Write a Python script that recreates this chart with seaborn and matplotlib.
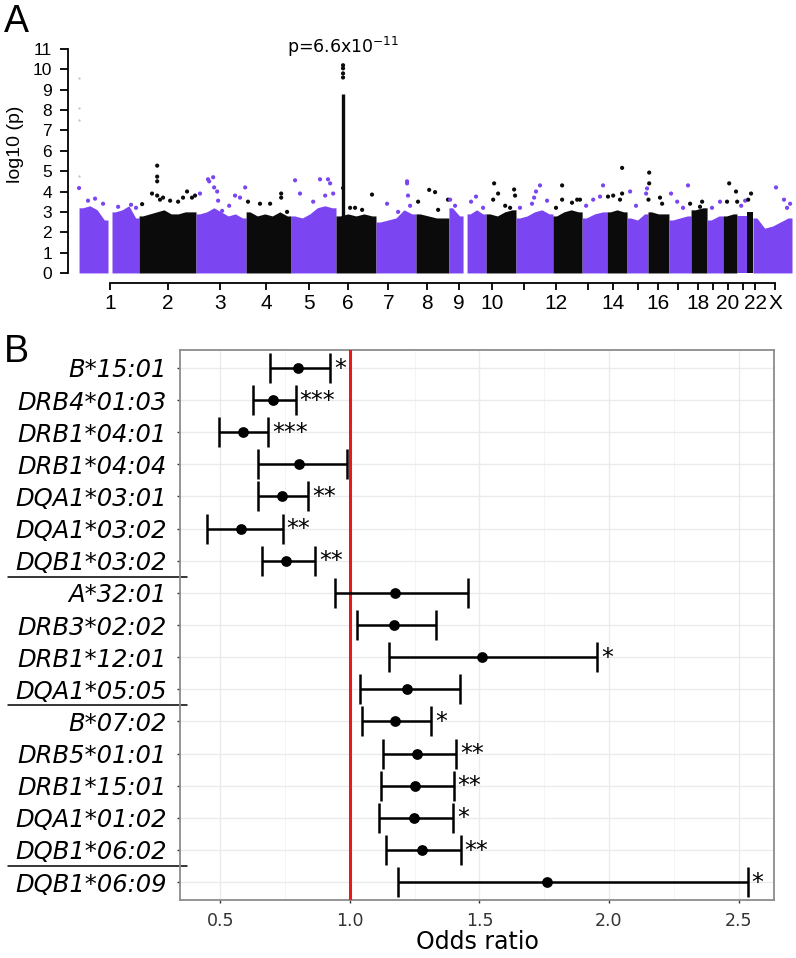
import numpy as np
import pandas as pd
import matplotlib
matplotlib.use("Agg")
import matplotlib.pyplot as plt
from matplotlib.ticker import MultipleLocator
from matplotlib.transforms import blended_transform_factory
import seaborn as sns

##################### panel A data: manhattan (positions in Mb, cumulative) #####################
seg_chrom = ['1', '1', '2', '3', '4', '5', '6', '7', '8', '9', '9', '10', '11', '12', '13',
             '14', '15', '16', '17', '18', '19', '20', '21', '22', 'X']
seg_start = [0, 140, 255, 497, 710, 901, 1092, 1262, 1432, 1572, 1649, 1730, 1857, 2014, 2138,
             2244, 2329, 2418, 2507, 2601, 2669, 2737, 2796, 2839, 2864]
seg_end = [123, 255, 497, 710, 901, 1092, 1262, 1432, 1572, 1632, 1730, 1857, 2014, 2138, 2244,
           2329, 2418, 2507, 2601, 2669, 2737, 2796, 2839, 2864, 3030]
# top of the dense cloud of points, read left to right inside each segment
seg_profile = [[3.2, 3.3, 3.1, 2.6],
               [3.0, 3.1, 3.3, 2.7],
               [2.8, 2.9, 3.0, 3.1, 2.9, 2.9, 3.0, 3.0],
               [2.9, 3.0, 3.2, 3.0, 2.8, 2.9, 2.7],
               [3.0, 2.8, 2.9, 2.8, 3.0, 2.8],
               [2.8, 2.7, 2.9, 3.2, 3.3, 3.2],
               [2.8, 2.9, 2.8, 2.9, 2.8],
               [2.5, 2.6, 2.7, 3.1, 2.9],
               [2.9, 2.8, 2.7, 2.7],
               [3.2, 2.8],
               [2.9, 3.1, 2.9],
               [2.9, 2.8, 3.0, 3.1],
               [2.7, 2.8, 3.0, 3.1, 2.9],
               [2.8, 3.0, 3.1, 3.0],
               [2.7, 2.9, 3.0],
               [3.0, 3.1, 3.0],
               [2.7, 2.6, 2.9],
               [3.0, 2.9, 2.9],
               [2.6, 2.7, 2.8],
               [3.1, 3.2],
               [2.6, 2.8],
               [2.8, 2.9],
               [2.8],
               [3.0],
               [2.7, 2.2, 2.3, 2.5, 2.7]]

chrom_order = ['1', '2', '3', '4', '5', '6', '7', '8', '9', '10', '11', '12', '13', '14', '15',
               '16', '17', '18', '19', '20', '21', '22', 'X']
tick_pos = [132, 378, 599, 795, 978, 1143, 1314, 1479, 1615, 1755, 1891, 2027, 2163, 2269,
            2375, 2461, 2546, 2631, 2695, 2758, 2822, 2873, 2958]
tick_lab = ['1', '2', '3', '4', '5', '6', '7', '8', '9', '10', '', '12', '', '14', '', '16',
            '', '18', '', '20', '', '22', 'X']

# single SNPs standing out above the cloud
hit_chrom = ['1'] * 7 + ['2'] * 14 + ['3'] * 12 + ['4'] * 6 + ['5'] * 8 + ['6'] * 9 + ['7'] * 6 \
    + ['8'] * 5 + ['9'] * 5 + ['10'] * 7 + ['11'] * 6 + ['12'] * 6 + ['13'] * 4 + ['14'] * 5 \
    + ['15'] * 4 + ['16'] * 5 + ['17'] * 4 + ['18'] * 3 + ['19'] * 2 + ['20'] * 4 + ['21'] * 2 \
    + ['22'] * 2 + ['X'] * 4
hit_pos = [0, 38, 68, 102, 166, 221, 242,
           268, 310, 332, 332, 332, 332, 344, 357, 387, 421, 442, 459, 480, 493,
           514, 548, 553, 570, 574, 587, 591, 608, 638, 663, 684, 706,
           718, 769, 812, 859, 859, 884,
           918, 939, 995, 1024, 1046, 1058, 1067, 1080,
           1122, 1122, 1122, 1122, 1122, 1152, 1173, 1203, 1245,
           1309, 1356, 1394, 1394, 1398, 1407,
           1441, 1488, 1513, 1526, 1568,
           1577, 1598, 1666, 1687, 1717,
           1760, 1764, 1781, 1811, 1832, 1849, 1853,
           1874, 1925, 1934, 1942, 1959, 1989,
           2027, 2053, 2053, 2095, 2117, 2129,
           2155, 2185, 2214, 2227,
           2248, 2270, 2299, 2308, 2308,
           2342, 2367, 2410, 2414,
           2420, 2423, 2423, 2469, 2478,
           2516, 2542, 2567, 2588,
           2597, 2639, 2648,
           2690, 2724,
           2754, 2763, 2792, 2797,
           2814, 2831,
           2844, 2856,
           2962, 2996, 3009, 3022]
hit_logp = [4.17, 3.55, 3.65, 3.4, 3.25, 3.35, 3.2,
            3.38, 3.9, 5.27, 4.73, 4.5, 3.8, 3.6, 3.7, 3.55, 3.5, 3.7, 4.0, 3.7, 3.8,
            3.9, 4.6, 4.5, 4.7, 4.2, 4.0, 3.55, 3.05, 3.3, 3.8, 3.7, 4.2,
            3.5, 3.4, 3.4, 3.9, 3.7, 3.0,
            4.55, 3.9, 3.5, 4.6, 3.8, 4.6, 4.4, 3.9,
            10.2, 10.05, 9.8, 9.6, 4.17, 3.2, 3.2, 3.1, 3.85,
            3.4, 3.0, 4.5, 4.4, 3.8, 3.3,
            3.5, 4.08, 3.97, 3.1, 3.6,
            3.6, 3.3, 3.5, 3.75, 3.2,
            3.6, 4.4, 3.9, 3.3, 3.2, 4.1, 3.8,
            3.2, 3.4, 3.7, 4.0, 4.3, 3.55,
            3.2, 4.3, 3.6, 3.45, 3.6, 3.6,
            3.3, 3.6, 3.75, 4.3,
            3.75, 3.8, 3.6, 5.16, 3.9,
            4.0, 3.3, 3.9, 4.15,
            3.6, 4.93, 4.4, 3.7, 3.4,
            3.9, 3.5, 3.2, 4.3,
            3.4, 3.25, 3.5,
            3.2, 3.5,
            3.5, 4.4, 4.0, 3.5,
            3.3, 3.55,
            3.6, 3.9,
            4.2, 3.6, 3.2, 3.4]
# the faint grey marks at the very left of chr1
faint_pos = [0, 0, 0, 0]
faint_logp = [9.58, 8.1, 7.5, 4.76]
# HLA peak column on chr6
peak_pos = 1122
peak_low = 2.6
peak_high = 8.8

##################### panel B data: odds ratios #####################
alleles = ['B*15:01', 'DRB4*01:03', 'DRB1*04:01', 'DRB1*04:04', 'DQA1*03:01', 'DQA1*03:02',
           'DQB1*03:02', 'A*32:01', 'DRB3*02:02', 'DRB1*12:01', 'DQA1*05:05', 'B*07:02',
           'DRB5*01:01', 'DRB1*15:01', 'DQA1*01:02', 'DQB1*06:02', 'DQB1*06:09']
odds = [0.800, 0.703, 0.587, 0.803, 0.736, 0.579, 0.755, 1.174, 1.170, 1.510, 1.220, 1.174,
        1.260, 1.253, 1.248, 1.277, 1.760]
ci_low = [0.691, 0.625, 0.494, 0.646, 0.645, 0.447, 0.660, 0.942, 1.028, 1.152, 1.039, 1.047,
          1.129, 1.120, 1.113, 1.141, 1.187]
ci_high = [0.923, 0.790, 0.684, 0.990, 0.838, 0.740, 0.865, 1.456, 1.332, 1.954, 1.425, 1.313,
           1.410, 1.400, 1.399, 1.427, 2.535]
stars = ['*', '***', '***', '', '**', '**', '**', '', '', '*', '', '*', '**', '**', '*', '**', '*']
sep_after = [6, 10, 15]

PURPLE = '#7b45f1'
BLACK = '#0b0b0b'

sns.set_style("white")
plt.rcParams['font.family'] = ['Liberation Sans', 'DejaVu Sans']
for key in ['text.color', 'axes.labelcolor', 'xtick.color', 'ytick.color']:
    plt.rcParams[key] = 'black'

W, H = 796, 958
fig = plt.figure(figsize=(W / 100, H / 100), dpi=100)

def px_axes(l, t, r, b):
    return fig.add_axes([l / W, 1 - b / H, (r - l) / W, (b - t) / H])

#################### A ####################
axa = px_axes(72, 40, 796, 275)
colour_of = {c: (PURPLE if i % 2 == 0 else BLACK) for i, c in enumerate(chrom_order)}

for ch, s, e, prof in zip(seg_chrom, seg_start, seg_end, seg_profile):
    step = (e - s) / len(prof)
    xs = np.concatenate([[s], s + step * (np.arange(len(prof)) + 0.5), [e]])
    ys = np.concatenate([[prof[0]], prof, [prof[-1]]])
    axa.fill_between(xs, ys, 0, color=colour_of[ch], lw=0, zorder=1)

axa.vlines(peak_pos, peak_low, peak_high, color=BLACK, lw=2.4, zorder=2)

hits = pd.DataFrame({'pos': hit_pos, 'logp': hit_logp, 'chrom': hit_chrom})
hits['col'] = ['odd' if chrom_order.index(c) % 2 == 0 else 'even' for c in hits['chrom']]
sns.scatterplot(data=hits, x='pos', y='logp', hue='col', palette={'odd': PURPLE, 'even': BLACK},
                s=9, linewidth=0, legend=False, ax=axa, zorder=3)
axa.scatter(faint_pos, faint_logp, s=3, color='#c8c8c8', lw=0, zorder=3)

axa.set_xlim(-30, 3047)
axa.set_ylim(-0.1, 11.44)
axa.set_xlabel('')
axa.set_ylabel('log10 (p)', fontsize=14)
axa.yaxis.set_label_coords(-0.066, 0.557)
axa.set_yticks(range(0, 12))
axa.set_xticks(tick_pos)
axa.set_xticklabels(tick_lab)
axa.tick_params(axis='y', labelsize=12.5, direction='out', length=5.5, width=1.3, pad=6, left=True)
axa.tick_params(axis='x', labelsize=15, direction='out', length=5, width=1.3, pad=3, bottom=True)
for side in ['top', 'right']:
    axa.spines[side].set_visible(False)
axa.spines['left'].set_bounds(0, 11)
axa.spines['left'].set_position(('outward', 2.9))
axa.spines['bottom'].set_bounds(tick_pos[0], tick_pos[-1])
axa.spines['bottom'].set_position(('outward', 5.8))
for side in ['left', 'bottom']:
    axa.spines[side].set_linewidth(1.3)
    axa.spines[side].set_color('black')

axa.text(peak_pos, 11.1, r'p=6.6x10$^{-11}$', ha='center', va='center', fontsize=12.5,
         family='DejaVu Sans')

#################### B ####################
axb = px_axes(180, 350, 774, 900)
rows = np.arange(len(alleles))
axb.errorbar(odds, rows, xerr=[np.array(odds) - np.array(ci_low), np.array(ci_high) - np.array(odds)],
             fmt='none', ecolor='black', elinewidth=1.8, capsize=10.8, capthick=1.8, zorder=4)
forest = pd.DataFrame({'odds': odds, 'row': rows})
sns.scatterplot(data=forest, x='odds', y='row', color='black', s=60, linewidth=0, ax=axb, zorder=5)
for r, hi, st in zip(rows, ci_high, stars):
    if st:
        axb.annotate(st, (hi, r), xytext=(3, -5.5), textcoords='offset points', ha='left',
                     va='baseline', fontsize=17, family='DejaVu Sans')

axb.axvline(1.0, color='#e41a1c', lw=2.2, zorder=3)
axb.set_xlim(0.344, 2.637)
axb.set_ylim(16.56, -0.56)
axb.set_yticks(rows)
axb.set_yticklabels(alleles, family='DejaVu Sans', style='italic')
axb.set_xticks([0.5, 1.0, 1.5, 2.0, 2.5])
axb.set_xticklabels(['0.5', '1.0', '1.5', '2.0', '2.5'], family='DejaVu Sans')
axb.xaxis.set_minor_locator(MultipleLocator(0.25))
axb.grid(True, which='major', color='#ebebeb', lw=1.0, zorder=0)
axb.grid(True, which='minor', axis='x', color='#f2f2f2', lw=0.6, zorder=0)
axb.set_axisbelow(True)
axb.tick_params(axis='both', which='major', length=2.5, width=1.0, color='#333333',
                left=True, bottom=True)
axb.tick_params(axis='y', pad=7, labelsize=17.5)
axb.tick_params(axis='x', pad=6, labelsize=12.5, labelcolor='#333333')
axb.tick_params(which='minor', length=0)
axb.set_ylabel('')
axb.set_xlabel('Odds ratio', family='DejaVu Sans', fontsize=17, labelpad=0)
for side in axb.spines.values():
    side.set_color('#8c8c8c')
    side.set_linewidth(1.3)

# group separators under the labels
trans = blended_transform_factory(fig.transFigure, axb.transData)
for k in sep_after:
    axb.plot([8 / W, 187 / W], [k + 0.5, k + 0.5], transform=trans, color='black', lw=1.1,
             clip_on=False)

fig.text(4 / W, 1 - 4 / H, 'A', ha='left', va='top', fontsize=27)
fig.text(4 / W, 1 - 334 / H, 'B', ha='left', va='top', fontsize=27)

fig.savefig('out.png', dpi=100)
